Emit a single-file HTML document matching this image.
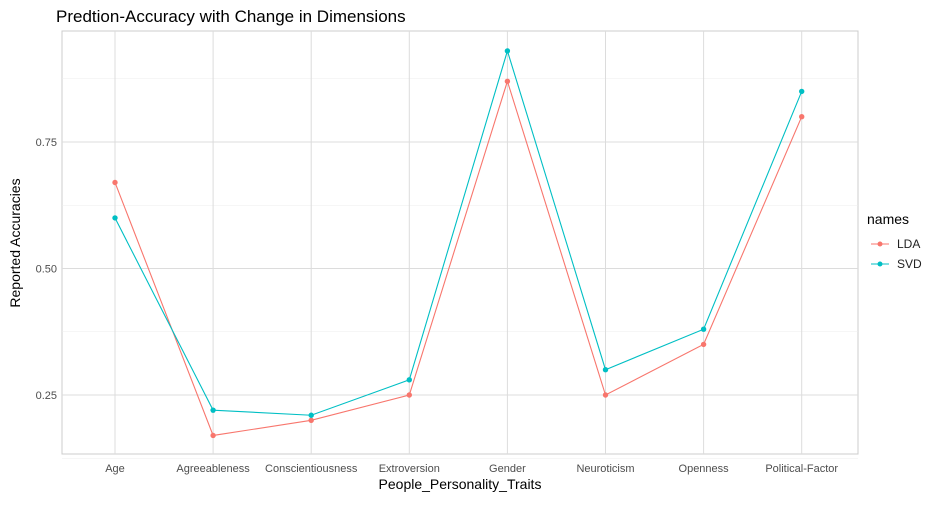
<!DOCTYPE html>
<html><head><meta charset="utf-8"><style>
body{margin:0;background:#fff;font-family:"Liberation Sans",sans-serif}
</style></head><body>
<svg width="950" height="500" id="c" font-family="Liberation Sans, sans-serif">
<text x="56" y="22" font-size="17" fill="#000">Predtion-Accuracy with Change in Dimensions</text>
<rect x="62" y="31" width="796" height="423" fill="#fff" stroke="#cccccc"/>
<g id="grid"></g><g id="series"></g><g id="axes"></g>
<text x="460" y="489" font-size="14" text-anchor="middle">People_Personality_Traits</text>
<text transform="translate(20,243) rotate(-90)" font-size="14" text-anchor="middle">Reported Accuracies</text>
<g>
<text x="867" y="224" font-size="14">names</text>
<g><line x1="871" y1="244" x2="889" y2="244" stroke="#F8766D"/><circle cx="880" cy="244" r="2.5" fill="#F8766D"/><text x="897" y="248" font-size="12" fill="#222">LDA</text></g>
<g><line x1="871" y1="264" x2="889" y2="264" stroke="#00BFC4"/><circle cx="880" cy="264" r="2.5" fill="#00BFC4"/><text x="897" y="268" font-size="12" fill="#222">SVD</text></g>
</g>
</svg>
<script>
const categories=["Age","Agreeableness","Conscientiousness","Extroversion","Gender","Neuroticism","Openness","Political-Factor"];
const ldaValues=[0.67,0.17,0.20,0.25,0.87,0.25,0.35,0.80];
const svdValues=[0.60,0.22,0.21,0.28,0.93,0.30,0.38,0.85];
const yTicks=[0.25,0.50,0.75];
const yLabels=["0.25","0.50","0.75"];
const NS="http://www.w3.org/2000/svg";
const xS=i=>115+i*98.1;
const yS=v=>395-(v-0.25)*506;
function mk(t,a,p){const e=document.createElementNS(NS,t);for(const k in a)e.setAttribute(k,a[k]);p.appendChild(e);return e;}
const g=document.getElementById('grid'),ax=document.getElementById('axes'),s=document.getElementById('series');
[0.125,0.375,0.625,0.875].forEach(v=>{const l=mk('line',{x1:62,x2:858,y1:yS(v),y2:yS(v),stroke:'#ececec','stroke-width':0.6},g);

});
yTicks.forEach((v,i)=>{const l=mk('line',{x1:62,x2:858,y1:yS(v),y2:yS(v),stroke:'#dcdcdc'},g);


const t=mk('text',{x:57,y:yS(v)+4,'font-size':11,fill:'#4d4d4d','text-anchor':'end'},ax);t.textContent=yLabels[i];

});
categories.forEach((c,i)=>{const l=mk('line',{x1:xS(i),x2:xS(i),y1:31,y2:454,stroke:'#dcdcdc'},g);


const t=mk('text',{x:xS(i),y:472,'font-size':11,fill:'#4d4d4d','text-anchor':'middle'},ax);t.textContent=c;

});
[[ldaValues,'#F8766D','lda'],[svdValues,'#00BFC4','svd']].forEach(([vals,col,n])=>{
const p=mk('polyline',{points:vals.map((v,i)=>xS(i)+','+yS(v)).join(' '),fill:'none',stroke:col,'stroke-width':1.1},s);


vals.forEach((v,i)=>{const c=mk('circle',{cx:xS(i),cy:yS(v),r:2.7,fill:col},s);

});});
</script>
</body></html>
